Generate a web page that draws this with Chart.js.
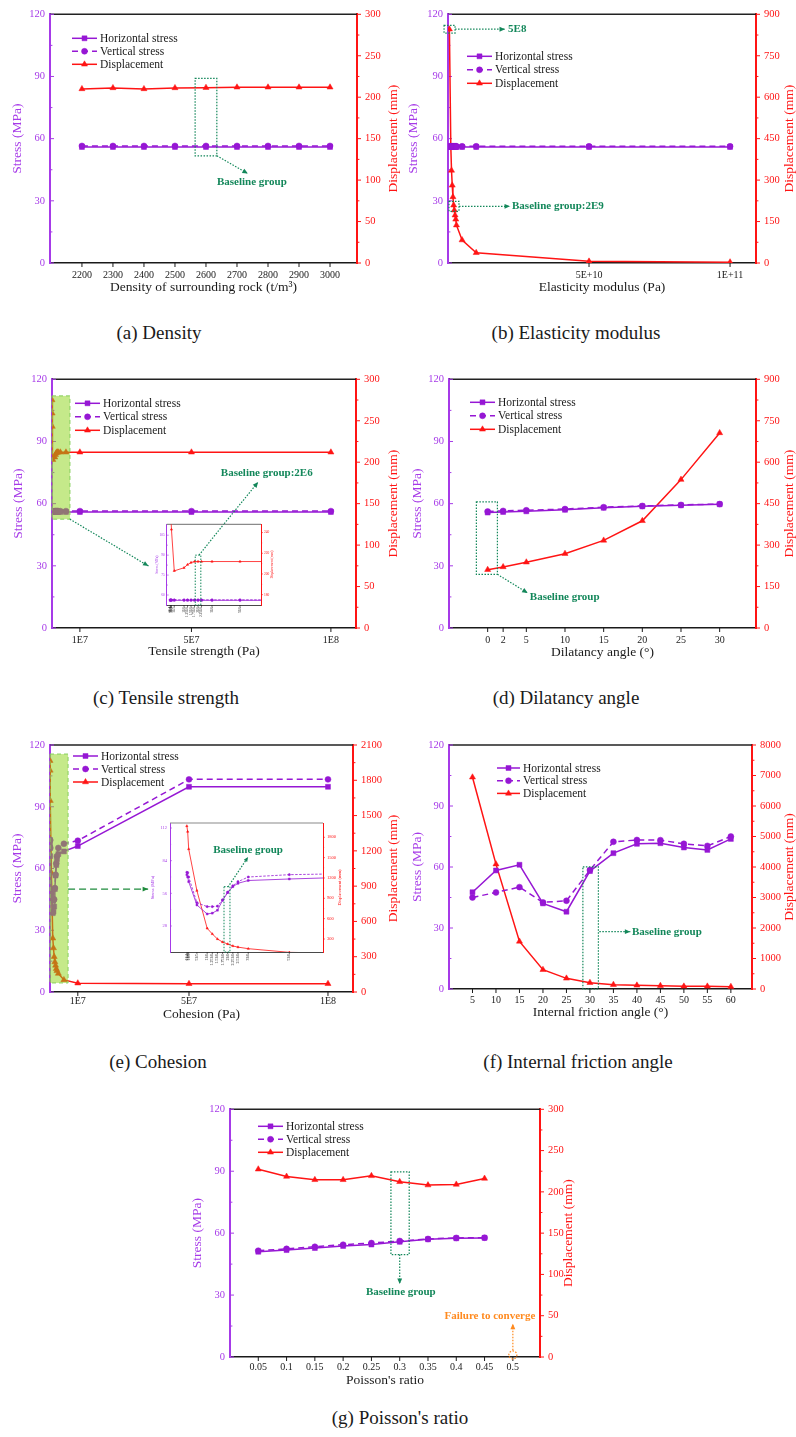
<!DOCTYPE html>
<html>
<head>
<meta charset="utf-8">
<title>Parameter sensitivity</title>
<script src="https://cdn.jsdelivr.net/npm/chart.js@4.4.1/dist/chart.umd.min.js"></script>
<style>
  html,body{margin:0;padding:0;background:#fff}
  #fig{position:relative;width:796px;height:1437px;overflow:hidden;background:#fff}
  #fig canvas{position:absolute}
  .cap{position:absolute;font-family:"Liberation Serif","Times New Roman",serif;font-size:19px;line-height:22px;color:#1a1a1a;white-space:nowrap;transform:translateX(-50%)}
</style>
</head>
<body>
<div id="fig">
  <div class="cap" style="left:159px;top:322px">(a) Density</div>
  <div class="cap" style="left:576px;top:322px">(b) Elasticity modulus</div>
  <div class="cap" style="left:166px;top:687px">(c) Tensile strength</div>
  <div class="cap" style="left:566px;top:687px">(d) Dilatancy angle</div>
  <div class="cap" style="left:158px;top:1051px">(e) Cohesion</div>
  <div class="cap" style="left:578px;top:1051px">(f) Internal friction angle</div>
  <div class="cap" style="left:400px;top:1407px">(g) Poisson's ratio</div>
</div>
<script>
// ---------- data ----------
// (a) density of surrounding rock
const densityX = [2200, 2300, 2400, 2500, 2600, 2700, 2800, 2900, 3000]
const densityH = [56, 56, 56, 56, 56, 56, 56, 56, 56]
const densityV = [56.5, 56.5, 56.5, 56.5, 56.5, 56.5, 56.5, 56.5, 56.5]
const densityD = [210, 211.2, 210, 211.2, 211.5, 212, 212, 212, 212]
const densityLabels = ['2200', '2300', '2400', '2500', '2600', '2700', '2800', '2900', '3000']

// (b) elasticity modulus
const elasticX = [5e8, 1e9, 1.25e9, 1.5e9, 1.75e9, 2e9, 2.25e9, 2.5e9, 2.75e9, 3e9, 5e9, 1e10, 5e10, 1e11]
const elasticH = [56, 56, 56, 56, 56, 56, 56, 56, 56, 56, 56, 56, 56, 56]
const elasticV = [56.3, 56.3, 56.3, 56.3, 56.3, 56.3, 56.3, 56.3, 56.3, 56.3, 56.3, 56.3, 56.3, 56.3]
const elasticD = [846, 419, 335, 281, 239, 209, 191, 173, 158, 137, 83, 37, 6, 3]
const elasticTicks = [5e10, 1e11]
const elasticLabels = ['5E+10', '1E+11']

// (c) tensile strength
const tensileX = [1e4, 5e4, 1e5, 3e5, 1e6, 1.25e6, 1.5e6, 1.75e6, 2e6, 2.25e6, 3e6, 5e6, 1e7, 5e7, 1e8]
const tensileH = [56, 56, 56, 56, 56, 56, 56, 56, 56, 56, 56, 56, 56, 56, 56]
const tensileV = [56.4, 56.4, 56.4, 56.4, 56.4, 56.4, 56.4, 56.4, 56.4, 56.4, 56.4, 56.4, 56.4, 56.4, 56.4]
const tensileD = [275, 259, 243, 203, 206, 209, 211, 212, 212, 212, 212, 212, 212, 212, 212]
const tensileTicks = [1e7, 5e7, 1e8]
const tensileLabels = ['1E7', '5E7', '1E8']
const tensileInsetTicks = [1e4, 5e4, 1e5, 3e5, 1e6, 1.25e6, 1.5e6, 1.75e6, 2e6, 2.25e6, 3e6, 5e6]
const tensileInsetLabels = ['1E4', '5E4', '1E5', '3E5', '1E6', '1.25E6', '1.5E6', '1.75E6', '2E6', '2.25E6', '3E6', '5E6']

// (d) dilatancy angle
const dilatancyX = [0, 2, 5, 10, 15, 20, 25, 30]
const dilatancyH = [55.7, 56, 56.3, 57, 58, 58.7, 59.2, 59.7]
const dilatancyV = [56.2, 56.5, 56.8, 57.4, 58.3, 58.9, 59.4, 59.8]
const dilatancyD = [211, 221, 238, 269, 317, 388, 537, 706]
const dilatancyLabels = ['0', '2', '5', '10', '15', '20', '25', '30']

// (e) cohesion
const cohesionX = [1e4, 5e4, 1e5, 5e5, 1e6, 1.25e6, 1.5e6, 1.75e6, 2e6, 2.25e6, 2.5e6, 3e6, 5e6, 1e7, 5e7, 1e8]
const cohesionH = [72, 70, 66, 46, 38.3, 39, 41.5, 50, 56.6, 61.7, 64.6, 67, 68.3, 70.9, 99.7, 99.7]
const cohesionV = [74, 73.7, 70, 48, 44.6, 44.6, 45, 50.5, 57, 62.5, 66, 70, 72, 73.5, 103.3, 103.3]
const cohesionD = [1967, 1884, 1627, 1013, 457, 374, 300, 255, 226, 197, 180, 157, 103, 75, 70, 70]
const cohesionTicks = [1e7, 5e7, 1e8]
const cohesionLabels = ['1E7', '5E7', '1E8']
const cohesionInsetTicks = [1e4, 5e4, 1e5, 5e5, 1e6, 1.25e6, 1.5e6, 1.75e6, 2e6, 2.25e6, 2.5e6, 3e6, 5e6]
const cohesionInsetLabels = ['1E4', '5E4', '1E5', '5E5', '1E6', '1.25E6', '1.5E6', '1.75E6', '2E6', '2.25E6', '2.5E6', '3E6', '5E6']

// (f) internal friction angle
const frictionX = [5, 10, 15, 20, 25, 30, 35, 40, 45, 50, 55, 60]
const frictionH = [47.6, 58.3, 61.1, 42.1, 38, 58, 66.8, 71.4, 71.7, 69.6, 68.4, 73.8]
const frictionV = [45, 47.5, 50.1, 42.6, 43.4, 58.5, 72.4, 73.3, 73.2, 71.4, 70.4, 75]
const frictionD = [6943, 4094, 1561, 633, 349, 207, 142, 120, 109, 87, 87, 76]
const frictionLabels = ['5', '10', '15', '20', '25', '30', '35', '40', '45', '50', '55', '60']

// (g) Poisson's ratio (0.5 failed to converge)
const poissonX = [0.05, 0.1, 0.15, 0.2, 0.25, 0.3, 0.35, 0.4, 0.45]
const poissonH = [51, 51.8, 52.8, 53.8, 54.5, 55.8, 57, 57.5, 57.7]
const poissonV = [51.5, 52.4, 53.4, 54.4, 55.2, 56.2, 57.2, 57.7, 57.8]
const poissonD = [227.4, 218.6, 214.6, 214.6, 219.4, 212.2, 208.2, 209, 216.2]
const poissonTicks = [0.05, 0.1, 0.15, 0.2, 0.25, 0.3, 0.35, 0.4, 0.45, 0.5]
const poissonLabels = ['0.05', '0.1', '0.15', '0.2', '0.25', '0.3', '0.35', '0.4', '0.45', '0.5']

// axis ticks
const stressTicks = [0, 30, 60, 90, 120]
const disp300Ticks = [0, 50, 100, 150, 200, 250, 300]
const disp900Ticks = [0, 150, 300, 450, 600, 750, 900]
const disp2100Ticks = [0, 300, 600, 900, 1200, 1500, 1800, 2100]
const disp8000Ticks = [0, 1000, 2000, 3000, 4000, 5000, 6000, 7000, 8000]

// ---------- style ----------
const SERIF = '"Liberation Serif","Times New Roman",serif'
const PURPLE = '#9617d4'
const PURPLE_AX = '#a63ae8'
const RED = '#ff1414'
const GREEN = '#13875a'
const ORANGE = '#ff8a1f'
const INK = '#1a1a1a'

function line(ctx, x0, y0, x1, y1){ ctx.beginPath(); ctx.moveTo(x0, y0); ctx.lineTo(x1, y1); ctx.stroke() }

function arrowHead(ctx, x0, y0, x1, y1, size){
  const ang = Math.atan2(y1 - y0, x1 - x0)
  ctx.beginPath()
  ctx.moveTo(x1, y1)
  ctx.lineTo(x1 - size*Math.cos(ang - 0.42), y1 - size*Math.sin(ang - 0.42))
  ctx.lineTo(x1 - size*Math.cos(ang + 0.42), y1 - size*Math.sin(ang + 0.42))
  ctx.closePath(); ctx.fill()
}

function drawItems(chart, items){
  const ctx = chart.ctx
  const px = v => chart.scales.x.getPixelForValue(v)
  const py = (v, ax) => chart.scales[ax || 'y'].getPixelForValue(v)
  for(const it of items){
    ctx.save()
    const col = it.color || GREEN
    ctx.strokeStyle = col; ctx.fillStyle = col; ctx.lineWidth = it.lw || 1.2
    if(it.t === 'shade'){
      const x0 = px(it.x0), x1 = px(it.x1), y0 = py(it.y0, it.ax), y1 = py(it.y1, it.ax)
      ctx.fillStyle = 'rgba(139,211,21,0.5)'
      ctx.fillRect(x0, y1, x1 - x0, y0 - y1)
      ctx.strokeStyle = '#86cf5c'; ctx.lineWidth = 1; ctx.setLineDash([4, 3])
      ctx.strokeRect(x0, y1, x1 - x0, y0 - y1)
    } else if(it.t === 'box'){
      const x0 = px(it.x0), x1 = px(it.x1), y0 = py(it.y0, it.ax), y1 = py(it.y1, it.ax)
      ctx.setLineDash(it.dash || [1.5, 1.5])
      ctx.strokeRect(x0, y1, x1 - x0, y0 - y1)
    } else if(it.t === 'arrow'){
      const x0 = px(it.x0), y0 = py(it.y0, it.ax), x1 = px(it.x1), y1 = py(it.y1, it.ax)
      ctx.setLineDash(it.dash || [1.5, 1.5])
      line(ctx, x0, y0, x1, y1)
      ctx.setLineDash([])
      if(it.head !== 0) arrowHead(ctx, x0, y0, x1, y1, it.head || 6)
    } else if(it.t === 'text'){
      ctx.font = `bold ${it.size || 11}px ${SERIF}`
      ctx.textAlign = it.align || 'center'; ctx.textBaseline = 'middle'
      ctx.fillText(it.text, px(it.x), py(it.y, it.ax))
    } else if(it.t === 'ring'){
      ctx.setLineDash([1.5, 1.5])
      ctx.beginPath(); ctx.arc(px(it.x), py(it.y, it.ax), it.r, 0, Math.PI*2); ctx.stroke()
    }
    ctx.restore()
  }
}

function drawLegend(chart, L){
  const {ctx, chartArea: a} = chart
  chart.data.datasets.forEach((ds, i) => {
    const x0 = a.left + L.dx, yy = a.top + L.dy + i*L.gap
    ctx.save()
    ctx.strokeStyle = ds.borderColor; ctx.fillStyle = ds.borderColor; ctx.lineWidth = 1.5
    ctx.setLineDash(ds.borderDash || [])
    line(ctx, x0, yy, x0 + L.w, yy)
    ctx.setLineDash([])
    ctx.lineWidth = 0.5
    Chart.helpers.drawPoint(ctx, {pointStyle: ds.pointStyle, radius: ds.pointRadius, borderWidth: 0.5, rotation: 0}, x0 + L.w/2, yy)
    ctx.fillStyle = INK; ctx.font = `${L.size || 11.5}px ${SERIF}`
    ctx.textBaseline = 'middle'; ctx.textAlign = 'left'
    ctx.fillText(ds.label, x0 + L.w + 3, yy + 0.5)
    ctx.restore()
  })
}

// frame, ticks, right-axis title, annotations and legend
const deco = {
  id: 'deco',
  beforeDraw(chart, args, o){
    if(!o.bg) return
    const a = chart.chartArea, ctx = chart.ctx
    ctx.save(); ctx.fillStyle = '#fff'; ctx.fillRect(a.left, a.top, a.right - a.left, a.bottom - a.top); ctx.restore()
  },
  beforeDatasetsDraw(chart, args, o){
    const {ctx, chartArea: a, scales: {x, y, y1}} = chart
    const L = o.tick || 4, m = L*0.6
    ctx.save()
    ctx.strokeStyle = o.topColor || '#222'; ctx.lineWidth = o.topWidth || 1.5
    line(ctx, a.left, a.top, a.right, a.top)
    ctx.lineWidth = o.tickW || 1
    ctx.strokeStyle = PURPLE_AX
    y.ticks.forEach((t, i) => {
      const p = y.getPixelForValue(t.value)
      line(ctx, a.left, p, a.left + L, p)
      if(i < y.ticks.length - 1){ const q = y.getPixelForValue((t.value + y.ticks[i+1].value)/2); line(ctx, a.left, q, a.left + m, q) }
    })
    ctx.strokeStyle = RED
    y1.ticks.forEach((t, i) => {
      const p = y1.getPixelForValue(t.value)
      line(ctx, a.right, p, a.right + L, p)
      if(i < y1.ticks.length - 1){ const q = y1.getPixelForValue((t.value + y1.ticks[i+1].value)/2); line(ctx, a.right, q, a.right + m, q) }
    })
    ctx.strokeStyle = INK
    x.ticks.forEach(t => { const p = x.getPixelForValue(t.value); line(ctx, p, a.bottom, p, a.bottom + L) })
    // right axis title reads bottom-to-top like the left one
    if(o.rTitle){
      ctx.translate(chart.width - o.rTitle.off, (a.top + a.bottom)/2)
      ctx.rotate(-Math.PI/2)
      ctx.fillStyle = RED; ctx.font = `${o.rTitle.size}px ${SERIF}`
      ctx.textAlign = 'center'; ctx.textBaseline = 'middle'
      ctx.fillText('Displacement (mm)', 0, 0)
    }
    ctx.restore()
  },
  afterDatasetsDraw(chart, args, o){
    if(o.items) drawItems(chart, o.items)
    if(o.legend) drawLegend(chart, o.legend)
  }
}
Chart.register(deco)

const fig = document.getElementById('fig')
function place(x, y, w, h){
  const c = document.createElement('canvas')
  c.width = w; c.height = h
  c.style.left = x + 'px'; c.style.top = y + 'px'
  c.style.width = w + 'px'; c.style.height = h + 'px'
  fig.appendChild(c)
  return c
}

function series(xs, H, V, D, s){
  const pts = arr => xs.map((x, i) => ({x, y: arr[i]}))
  const base = {borderWidth: s.lw, pointBorderWidth: 0.5, clip: s.clip}
  return [
    {...base, label: 'Horizontal stress', data: pts(H), yAxisID: 'y', borderColor: PURPLE, backgroundColor: PURPLE, pointStyle: 'rect', pointRadius: s.r},
    {...base, label: 'Vertical stress', data: pts(V), yAxisID: 'y', borderColor: PURPLE, backgroundColor: PURPLE, borderDash: s.dash, pointStyle: 'circle', pointRadius: s.r*0.85},
    {...base, label: 'Displacement', data: pts(D), yAxisID: 'y1', borderColor: RED, backgroundColor: RED, pointStyle: 'triangle', pointRadius: s.r}
  ]
}

const MAIN = {r: 3.5, lw: 1.5, dash: [6, 4]}
const INSET = {r: 1.3, lw: 0.8, dash: [2.5, 1.5], clip: 0}

function makeChart(p){
  const [bx, by, bw, bh] = p.box
  const [al, ar, at, ab] = p.area
  const f = p.font || {tick: 10.5, xtick: 10, title: 13.5}
  const fix = vals => s => { s.ticks = vals.map(v => ({value: v})) }
  const aw = p.axisW || 2
  p.deco.rTitle = {off: p.rTitleOff, size: f.title}
  return new Chart(place(bx, by, bw, bh), {
    type: 'line',
    data: {datasets: p.datasets},
    options: {
      responsive: false, animation: false, events: [],
      layout: {padding: {top: at - by, left: 0, right: 0, bottom: 0}},
      plugins: {legend: {display: false}, tooltip: {enabled: false}, deco: p.deco},
      scales: {
        x: {
          type: 'linear', min: p.xMin, max: p.xMax,
          afterBuildTicks: fix(p.xTicks),
          afterFit: s => { s.height = by + bh - ab },
          grid: {display: false, drawTicks: false},
          border: {display: true, color: INK, width: p.xAxisW || 1.5},
          ticks: {autoSkip: false, padding: p.xTickPad, color: INK, font: {family: SERIF, size: f.xtick},
                  minRotation: p.rot || 0, maxRotation: p.rot || 0, callback: (v, i) => p.xLabels[i]},
          title: {display: !!p.xTitle, text: p.xTitle, color: INK, font: {family: SERIF, size: f.title, lineHeight: 1},
                  padding: {top: 0, bottom: p.xTitlePad || 0}}
        },
        y: {
          position: 'left', min: p.yMin ?? 0, max: p.yMax ?? 120,
          afterBuildTicks: fix(p.yTicks || stressTicks),
          afterFit: s => { s.width = al - bx },
          grid: {display: false, drawTicks: false},
          border: {display: true, color: PURPLE_AX, width: aw},
          ticks: {padding: p.lTickPad ?? 5, color: PURPLE_AX, font: {family: SERIF, size: f.tick}, callback: v => String(v)},
          title: {display: true, text: 'Stress (MPa)', color: PURPLE_AX, font: {family: SERIF, size: f.title, lineHeight: 1},
                  padding: {top: p.lTitlePad, bottom: 0}}
        },
        y1: {
          position: 'right', min: p.y1Min ?? 0, max: p.y1Max,
          afterBuildTicks: fix(p.y1Ticks),
          afterFit: s => { s.width = bx + bw - ar },
          grid: {display: false, drawTicks: false},
          border: {display: true, color: RED, width: aw},
          ticks: {padding: p.rTickPad ?? 8, color: RED, font: {family: SERIF, size: f.tick}, callback: v => String(v)},
          title: {display: false}
        }
      }
    }
  })
}

// (a)
makeChart({
  box: [0, 0, 400, 305], area: [50, 357, 13, 263],
  datasets: series(densityX, densityH, densityV, densityD, MAIN),
  xMin: 2097, xMax: 3087, xTicks: densityX, xLabels: densityLabels,
  xTitle: 'Density of surrounding rock (t/m³)', xTitlePad: 10.5, xTickPad: 6,
  y1Max: 300, y1Ticks: disp300Ticks, lTitlePad: 10.5, rTitleOff: 7,
  deco: {legend: {dx: 22, dy: 24, gap: 13, w: 25}, items: [
    {t: 'box', x0: 2565, x1: 2635, y0: 51.7, y1: 89.1},
    {t: 'arrow', x0: 2635, y0: 51.7, x1: 2735, y1: 43.2},
    {t: 'text', x: 2748, y: 38.9, text: 'Baseline group'}
  ]}
})

// (b)
makeChart({
  box: [400, 0, 396, 305], area: [448, 756, 13, 263],
  datasets: series(elasticX, elasticH, elasticV, elasticD, MAIN),
  xMin: 0, xMax: 1.092e11, xTicks: elasticTicks, xLabels: elasticLabels,
  xTitle: 'Elasticity modulus (Pa)', xTitlePad: 10.5, xTickPad: 6,
  y1Max: 900, y1Ticks: disp900Ticks, lTitlePad: 6.5, rTitleOff: 6.5,
  deco: {legend: {dx: 19, dy: 42, gap: 13.5, w: 25}, items: [
    {t: 'box', ax: 'y1', x0: -1.4e9, x1: 2.5e9, y0: 832, y1: 860},
    {t: 'arrow', ax: 'y1', x0: 2.5e9, y0: 846, x1: 2.02e10, y1: 846},
    {t: 'text', ax: 'y1', x: 2.13e10, y: 846, text: '5E8', align: 'left'},
    {t: 'box', ax: 'y1', x0: 3.5e8, x1: 3.9e9, y0: 187, y1: 223},
    {t: 'arrow', ax: 'y1', x0: 3.9e9, y0: 205, x1: 2.2e10, y1: 205},
    {t: 'text', ax: 'y1', x: 2.27e10, y: 205, text: 'Baseline group:2E9', align: 'left'}
  ]}
})

// (c)
makeChart({
  box: [0, 365, 400, 305], area: [52, 356, 379, 628],
  datasets: series(tensileX, tensileH, tensileV, tensileD, {...MAIN, clip: 0}),
  xMin: 0, xMax: 1.09e8, xTicks: tensileTicks, xLabels: tensileLabels,
  xTitle: 'Tensile strength (Pa)', xTitlePad: 11.8, xTickPad: 6,
  y1Max: 300, y1Ticks: disp300Ticks, lTitlePad: 11.5, rTitleOff: 7,
  deco: {legend: {dx: 23, dy: 24, gap: 13.5, w: 25}, items: [
    {t: 'shade', x0: 0, x1: 0.643e7, y0: 52.5, y1: 112},
    {t: 'arrow', x0: 0.643e7, y0: 52.5, x1: 3.46e7, y1: 29.9},
    {t: 'arrow', x0: 5.29e7, y0: 35.7, x1: 7.39e7, y1: 70.4},
    {t: 'text', x: 7.7e7, y: 74.8, text: 'Baseline group:2E6'}
  ]}
})
// (c) inset
makeChart({
  box: [152, 518, 133, 107], area: [166.7, 261, 524.3, 605],
  datasets: series(tensileX, tensileH, tensileV, tensileD, INSET),
  font: {tick: 3.5, xtick: 3.5, title: 3.5}, axisW: 1, xAxisW: 0.8,
  xMin: -0.24e6, xMax: 6.5e6, xTicks: tensileInsetTicks, xLabels: tensileInsetLabels, rot: 90, xTickPad: 2,
  yMin: 52.5, yMax: 113.2, yTicks: [60, 75, 90, 105], y1Min: 170, y1Max: 248, y1Ticks: [180, 200, 220, 240],
  lTickPad: 2, rTickPad: 3, lTitlePad: 2.9, rTitleOff: 13.3,
  deco: {bg: true, tick: 2, tickW: 0.6, topColor: '#8a8a8a', topWidth: 1.2, items: [
    {t: 'box', x0: 1.8e6, x1: 2.2e6, y0: 52.5, y1: 90, lw: 1},
    {t: 'arrow', x0: 2.07e6, y0: 90, x1: 3.83e6, y1: 113.2, head: 0}
  ]}
})

// (d)
makeChart({
  box: [400, 365, 396, 305], area: [449, 756, 379, 628],
  datasets: series(dilatancyX, dilatancyH, dilatancyV, dilatancyD, MAIN),
  xMin: -5, xMax: 34.7, xTicks: dilatancyX, xLabels: dilatancyLabels,
  xTitle: 'Dilatancy angle (°)', xTitlePad: 11, xTickPad: 6,
  y1Max: 900, y1Ticks: disp900Ticks, lTitlePad: 10.5, rTitleOff: 6.5,
  deco: {legend: {dx: 21, dy: 23, gap: 13.5, w: 25}, items: [
    {t: 'box', x0: -1.46, x1: 1.26, y0: 25.9, y1: 60.9},
    {t: 'arrow', x0: 1.26, y0: 25.9, x1: 5.17, y1: 16.9},
    {t: 'text', x: 9.96, y: 14.9, text: 'Baseline group'}
  ]}
})

// (e)
makeChart({
  box: [0, 730, 400, 305], area: [50, 353, 745, 992],
  datasets: series(cohesionX, cohesionH, cohesionV, cohesionD, {...MAIN, clip: 0}),
  xMin: 0, xMax: 1.09e8, xTicks: cohesionTicks, xLabels: cohesionLabels,
  xTitle: 'Cohesion (Pa)', xTitlePad: 13.5, xTickPad: 3,
  y1Max: 2100, y1Ticks: disp2100Ticks, lTitlePad: 11, rTitleOff: 6.5,
  deco: {legend: {dx: 23, dy: 11, gap: 13, w: 25}, items: [
    {t: 'shade', x0: 0, x1: 0.65e7, y0: 4.4, y1: 115.6},
    {t: 'arrow', x0: 0.65e7, y0: 50, x1: 3.53e7, y1: 50, dash: [7, 4], color: '#1e8b3c'}
  ]}
})
// (e) inset
makeChart({
  box: [150, 815, 195, 160], area: [170, 323, 823, 952],
  datasets: series(cohesionX, cohesionH, cohesionV, cohesionD, INSET),
  font: {tick: 4.5, xtick: 4, title: 4.5}, axisW: 1, xAxisW: 0.8,
  xMin: -0.81e6, xMax: 6.64e6, xTicks: cohesionInsetTicks, xLabels: cohesionInsetLabels, rot: 90, xTickPad: 2,
  yMin: 5.7, yMax: 116.3, yTicks: [28, 56, 84, 112], y1Min: 108, y1Max: 2011, y1Ticks: [300, 600, 900, 1200, 1500, 1800],
  lTickPad: 3, rTickPad: 4, lTitlePad: 0.5, rTitleOff: 5,
  deco: {bg: true, tick: 2, tickW: 0.6, topColor: '#8a8a8a', topWidth: 1.2, items: [
    {t: 'box', x0: 1.82e6, x1: 2.11e6, y0: 5.7, y1: 61.7, lw: 1},
    {t: 'arrow', x0: 2.01e6, y0: 61.4, x1: 2.99e6, y1: 87.1, head: 5},
    {t: 'text', x: 2.99e6, y: 93.1, text: 'Baseline group', size: 11}
  ]}
})

// (f)
makeChart({
  box: [400, 730, 396, 305], area: [449, 752, 745, 989],
  datasets: series(frictionX, frictionH, frictionV, frictionD, MAIN),
  xMin: 0, xMax: 64.5, xTicks: frictionX, xLabels: frictionLabels,
  xTitle: 'Internal friction angle (°)', xTitlePad: 15.5, xTickPad: 5,
  y1Max: 8000, y1Ticks: disp8000Ticks, lTitlePad: 10.5, rTitleOff: 6.5,
  deco: {legend: {dx: 48, dy: 23, gap: 12.7, w: 23}, items: [
    {t: 'box', x0: 28.5, x1: 31.8, y0: 0, y1: 60.1},
    {t: 'arrow', x0: 32, y0: 28.2, x1: 38.6, y1: 28.2},
    {t: 'text', x: 38.95, y: 28.2, text: 'Baseline group', align: 'left'}
  ]}
})

// (g)
makeChart({
  box: [190, 1095, 400, 305], area: [230, 540, 1106, 1357],
  datasets: series(poissonX, poissonH, poissonV, poissonD, MAIN),
  xMin: 0, xMax: 0.548, xTicks: poissonTicks, xLabels: poissonLabels,
  xTitle: "Poisson's ratio", xTitlePad: 12.8, xTickPad: 4.5,
  y1Max: 300, y1Ticks: disp300Ticks, lTitlePad: 0.5, rTitleOff: 21.5,
  deco: {legend: {dx: 28, dy: 17, gap: 13, w: 25}, items: [
    {t: 'box', x0: 0.2845, x1: 0.3168, y0: 49.6, y1: 89.7},
    {t: 'arrow', x0: 0.3, y0: 49.6, x1: 0.3, y1: 35.4},
    {t: 'text', x: 0.302, y: 31.2, text: 'Baseline group'},
    {t: 'ring', x: 0.5, y: 1, r: 4, color: ORANGE},
    {t: 'arrow', x0: 0.5, y0: 3.3, x1: 0.5, y1: 16.1, color: ORANGE},
    {t: 'text', x: 0.4594, y: 19.6, text: 'Failure to converge', color: ORANGE}
  ]}
})
</script>
</body>
</html>
